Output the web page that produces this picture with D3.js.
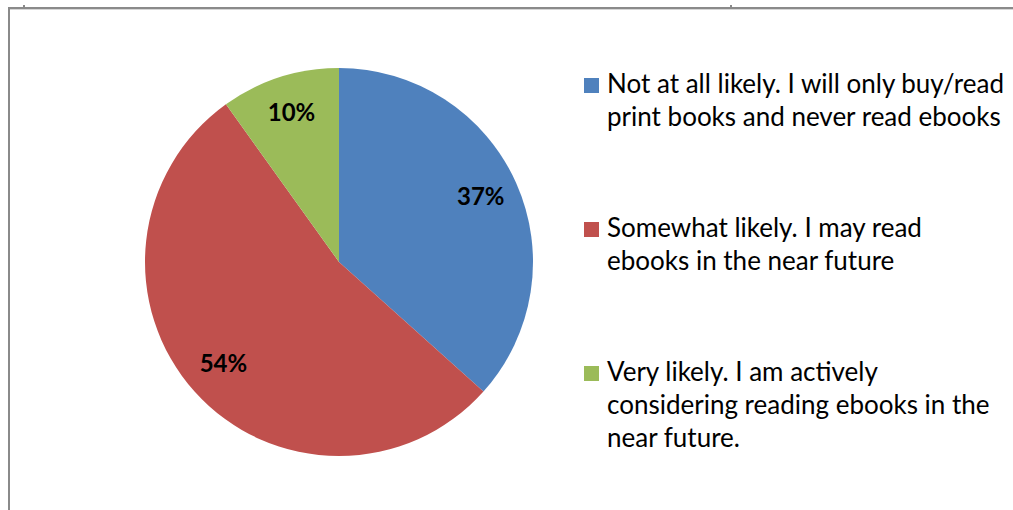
<!DOCTYPE html>
<html>
<head>
<meta charset="utf-8">
<script src="https://cdn.jsdelivr.net/npm/d3@7"></script>
<style>
  body { margin: 0; background: #fff; }
  svg { display: block; font-family: Lato, "Open Sans", sans-serif; }
</style>
</head>
<body>
<div id="chart"></div>
<script>
// survey answers, share of respondents (%)
const categories = [
  ["Not at all likely. I will only buy/read", "print books and never read ebooks"],
  ["Somewhat likely. I may read", "ebooks in the near future"],
  ["Very likely. I am actively", "considering reading ebooks in the", "near future."]
];
const values = [37, 54, 10];
const colors = ["#4F81BD", "#C0504D", "#9BBB59"];

const width = 1013, height = 510;
const cx = 339, cy = 262, radius = 194;

const svg = d3.select("#chart").append("svg")
  .attr("width", width)
  .attr("height", height);

// frame of the chart area (cut off on the right and bottom)
svg.append("path")
  .attr("d", `M9,${height} V8 H${width}`)
  .attr("fill", "none")
  .attr("stroke", "#8a8a8a")
  .attr("stroke-width", 2);
svg.append("line")
  .attr("x1", 10).attr("x2", width)
  .attr("y1", 9.5).attr("y2", 9.5)
  .attr("stroke", "#d6d6d6");
// little handle marks on the top edge
[24, 731].forEach(x => {
  svg.append("rect")
    .attr("x", x - 1).attr("y", 5)
    .attr("width", 2).attr("height", 3)
    .attr("fill", "#8a8a8a");
});

const pie = d3.pie().sort(null).value(d => d);
const arcs = pie(values);
const arc = d3.arc().innerRadius(0).outerRadius(radius);
const labelArc = d3.arc().innerRadius(radius * 0.8).outerRadius(radius * 0.8);

const g = svg.append("g").attr("transform", `translate(${cx},${cy})`);

g.selectAll("path.slice")
  .data(arcs)
  .enter().append("path")
  .attr("class", "slice")
  .attr("d", arc)
  .attr("fill", (d, i) => colors[i]);

g.selectAll("text.pct")
  .data(arcs)
  .enter().append("text")
  .attr("class", "pct")
  .attr("transform", d => `translate(${labelArc.centroid(d)})`)
  .attr("text-anchor", "middle")
  .attr("dy", "0.28em")
  .attr("font-size", 24)
  .attr("font-weight", "bold")
  .attr("fill", "#000")
  .text(d => d.data + "%");

// legend
const legendX = 584, legendY0 = 93, itemGap = 144, lineH = 33;
const legend = svg.append("g");

categories.forEach((lines, i) => {
  const y = legendY0 + i * itemGap;
  legend.append("rect")
    .attr("x", legendX)
    .attr("y", y - 15)
    .attr("width", 15)
    .attr("height", 15)
    .attr("fill", colors[i]);
  const t = legend.append("text")
    .attr("x", legendX + 23)
    .attr("y", y)
    .attr("font-size", 26)
    .attr("fill", "#000");
  lines.forEach((line, j) => {
    t.append("tspan")
      .attr("x", legendX + 23)
      .attr("y", y + j * lineH)
      .text(line);
  });
});
</script>
</body>
</html>
